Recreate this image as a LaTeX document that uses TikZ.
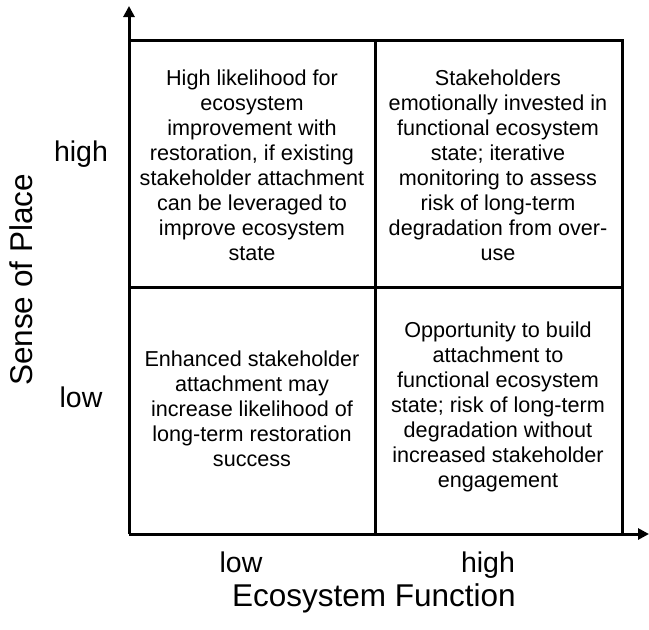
\documentclass[tikz,border=0pt]{standalone}
\usepackage{fontspec}
\setmainfont{Liberation Sans}
\usetikzlibrary{arrows.meta}
\begin{document}
\begin{tikzpicture}[x=1pt,y=-1pt,
  axis/.style={line width=3pt,-{Triangle[length=11pt,width=11pt]}},
  gridline/.style={line width=3pt},
  celltext/.style={align=center,font=\fontsize{21.6}{25}\selectfont,inner sep=0pt},
  ticklabel/.style={font=\fontsize{28.5}{30}\selectfont,inner sep=0pt,anchor=base},
  axistitle/.style={font=\fontsize{31.5}{34}\selectfont,inner sep=0pt}]
\useasboundingbox (0,0) rectangle (649,630);
\coordinate (o) at (129,534);
\coordinate (ytop) at (129,6);
\coordinate (xend) at (649,534);
\coordinate (tl) at (129,40);
\coordinate (tr) at (622,40);
\coordinate (br) at (622,534);
\coordinate (mt) at (375,40);
\coordinate (mb) at (375,534);
\coordinate (ml) at (129,287);
\coordinate (mr) at (622,287);
\draw[gridline] (tl) -- (tr) -- (br);
\draw[gridline] (mt) -- (mb);
\draw[gridline] (ml) -- (mr);
\draw[axis] (o) -- (ytop);
\draw[axis] (o) -- (xend);
\node[celltext] (c11) at (252,165) {High likelihood for\\ecosystem\\improvement with\\restoration, if existing\\stakeholder attachment\\can be leveraged to\\improve ecosystem\\state};
\node[celltext] (c12) at (498,165) {Stakeholders\\emotionally invested in\\functional ecosystem\\state; iterative\\monitoring to assess\\risk of long-term\\degradation from over-\\use};
\node[celltext] (c21) at (252,409) {Enhanced stakeholder\\attachment may\\increase likelihood of\\long-term restoration\\success};
\node[celltext] (c22) at (498,407) {Opportunity to build\\attachment to\\functional ecosystem\\state; risk of long-term\\degradation without\\increased stakeholder\\engagement};
\node[ticklabel] (yhigh) at (81,161) {high};
\node[ticklabel] (ylow) at (81,407) {low};
\node[ticklabel] (xlow) at (241,572) {low};
\node[ticklabel] (xhigh) at (488,572) {high};
\node[axistitle,rotate=90] (ytitle) at (21,280) {Sense of Place};
\node[axistitle] (xtitle) at (374,598) {Ecosystem Function};
\end{tikzpicture}
\end{document}
